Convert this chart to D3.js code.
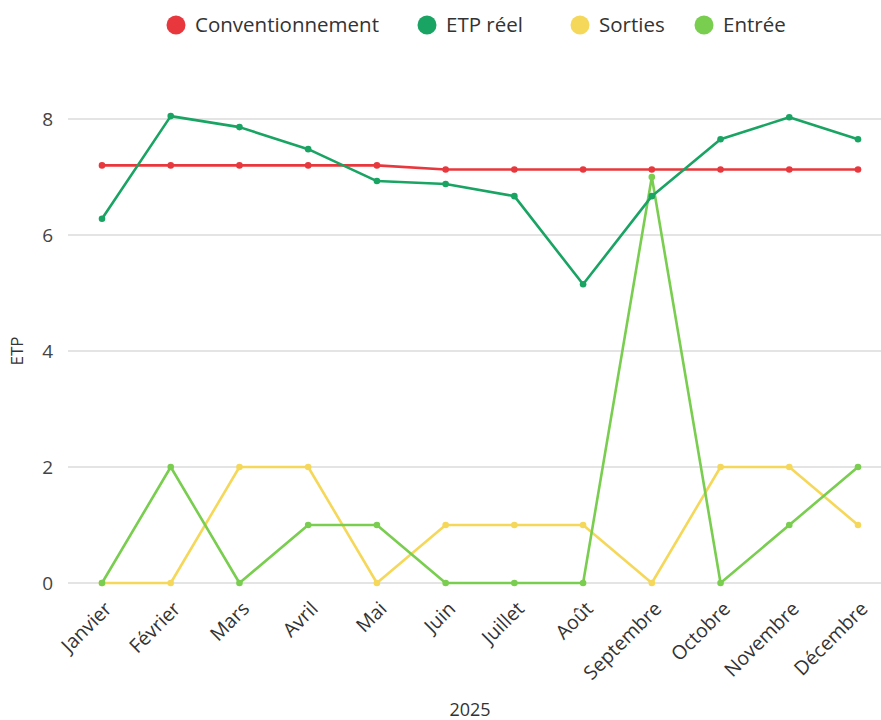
<!DOCTYPE html>
<html>
<head>
<meta charset="utf-8">
<script src="https://cdn.jsdelivr.net/npm/d3@7"></script>
<style>
  html, body { margin: 0; padding: 0; background: #fff; }
  svg { display: block; font-family: "Open Sans", "Noto Sans", sans-serif; }
</style>
</head>
<body>
<svg id="chart" width="881" height="720"></svg>
<script>
// Monthly staffing (ETP) for 2025
const months = ["Janvier", "Février", "Mars", "Avril", "Mai", "Juin", "Juillet",
                "Août", "Septembre", "Octobre", "Novembre", "Décembre"];
const conventionnement = [7.2, 7.2, 7.2, 7.2, 7.2, 7.13, 7.13, 7.13, 7.13, 7.13, 7.13, 7.13];
const etpReel = [6.28, 8.05, 7.86, 7.48, 6.93, 6.88, 6.67, 5.15, 6.67, 7.65, 8.03, 7.65];
const sorties = [0, 0, 2, 2, 0, 1, 1, 1, 0, 2, 2, 1];
const entree = [0, 2, 0, 1, 1, 0, 0, 0, 7, 0, 1, 2];
const yTicks = [0, 2, 4, 6, 8];

const seriesList = [
  { name: "Conventionnement", values: conventionnement, color: "#e8383d" },
  { name: "ETP réel", values: etpReel, color: "#19a463" },
  { name: "Sorties", values: sorties, color: "#f5d85a" },
  { name: "Entrée", values: entree, color: "#79cd4f" }
];
// drawing order: bottom to top
const drawOrder = [2, 3, 0, 1];

const svg = d3.select("#chart");

const x = d3.scalePoint().domain(months).range([102, 858]);
const y = d3.scaleLinear().domain([0, 8]).range([583, 119]);

// horizontal grid
svg.append("g").selectAll("line").data(yTicks).join("line")
  .attr("x1", 68).attr("x2", 881)
  .attr("y1", d => y(d)).attr("y2", d => y(d))
  .attr("stroke", "#e4e4e4").attr("stroke-width", 2);

// y axis labels
const yAxis = d3.axisLeft(y).tickValues(yTicks).tickSize(0).tickPadding(0);
const gy = svg.append("g").attr("transform", "translate(53,0)").call(yAxis);
gy.select(".domain").remove();
gy.selectAll("text").attr("font-size", 19).attr("fill", "#444")
  .attr("font-family", "Open Sans, sans-serif");

svg.append("text")
  .attr("transform", "translate(23,351) rotate(-90)")
  .attr("text-anchor", "middle")
  .attr("font-size", 17).attr("fill", "#333")
  .text("ETP");

// x axis labels (rotated)
const xAxis = d3.axisBottom(x).tickSize(0).tickPadding(0);
const gx = svg.append("g").call(xAxis);
gx.select(".domain").remove();
gx.selectAll(".tick").attr("transform", d => `translate(${x(d)},0)`);
gx.selectAll("text")
  .attr("y", 0).attr("dy", "0")
  .attr("text-anchor", "end")
  .attr("transform", "translate(11,610) rotate(-45)")
  .attr("font-size", 19.5).attr("fill", "#333")
  .attr("font-family", "Open Sans, sans-serif");

svg.append("text")
  .attr("x", 470).attr("y", 716)
  .attr("text-anchor", "middle")
  .attr("font-size", 18).attr("fill", "#333")
  .text("2025");

// lines and points
const line = d3.line().x((d, i) => x(months[i])).y(d => y(d));
drawOrder.forEach(k => {
  const s = seriesList[k];
  const g = svg.append("g");
  g.append("path").datum(s.values)
    .attr("d", line)
    .attr("fill", "none")
    .attr("stroke", s.color)
    .attr("stroke-width", 2.6)
    .attr("stroke-linejoin", "round");
  g.selectAll("circle").data(s.values).join("circle")
    .attr("cx", (d, i) => x(months[i]))
    .attr("cy", d => y(d))
    .attr("r", 3.3)
    .attr("fill", s.color);
});

// legend
const legendX = [176, 427, 580, 704];
const legend = svg.append("g");
seriesList.forEach((s, i) => {
  legend.append("circle")
    .attr("cx", legendX[i]).attr("cy", 25).attr("r", 9.5)
    .attr("fill", s.color);
  legend.append("text")
    .attr("x", legendX[i] + 19).attr("y", 32)
    .attr("font-size", 20.5).attr("fill", "#333")
    .text(s.name);
});
</script>
</body>
</html>
